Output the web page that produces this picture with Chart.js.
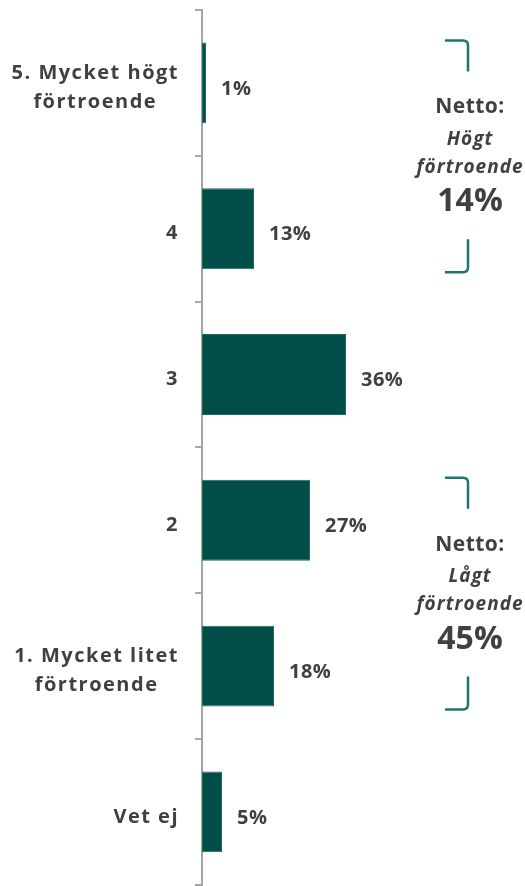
<!DOCTYPE html>
<html>
<head>
<meta charset="utf-8">
<script src="https://cdn.jsdelivr.net/npm/chart.js@4"></script>
<style>
html,body{margin:0;padding:0;background:#fff;}
#wrap{width:525px;height:886px;position:relative;}
</style>
</head>
<body>
<div id="wrap"><canvas id="c"></canvas></div>
<script>
const categories = [["5. Mycket högt","förtroende"], "4", "3", "2", ["1. Mycket litet","förtroende"], "Vet ej"];
const values = [1, 13, 36, 27, 18, 5];
const valueLabels = ["1%", "13%", "36%", "27%", "18%", "5%"];
const nettoTitles = ["Högt", "Lågt"];
const nettoValues = ["14%", "45%"];
const nettoRanges = [[0, 1], [3, 4]];

const FONT = "'Open Sans', Lato, sans-serif";
const TEXT = "#404040";
const BAR = "#024d47";
const BRACKET = "#1a7770";

function setLS(ctx, v) { if ('letterSpacing' in ctx) ctx.letterSpacing = v; }

const labelPlugin = {
  id: 'labels',
  afterDatasetsDraw(chart) {
    const ctx = chart.ctx;
    const meta = chart.getDatasetMeta(0);
    ctx.save();
    ctx.fillStyle = TEXT;
    ctx.textBaseline = 'middle';
    // value labels
    ctx.font = "bold 20px " + FONT;
    setLS(ctx, '0.5px');
    ctx.textAlign = 'left';
    meta.data.forEach((bar, i) => {
      ctx.fillText(valueLabels[i], bar.x + 15, bar.y + 6);
    });
    // category labels: block right-aligned, lines centered within block
    const yScale = chart.scales.y;
    const right = 179;
    ctx.font = "bold 20px " + FONT;
    setLS(ctx, '1.5px');
    categories.forEach((c, i) => {
      const lines = Array.isArray(c) ? c : [c];
      const w = Math.max(...lines.map(l => ctx.measureText(l).width));
      const cx = right - w / 2;
      const y0 = yScale.getPixelForValue(i) + 5;
      const lh = 29;
      ctx.textAlign = 'center';
      lines.forEach((l, k) => {
        ctx.fillText(l, cx, y0 + (k - (lines.length - 1) / 2) * lh);
      });
    });
    // netto annotations
    nettoRanges.forEach((r, gi) => {
      const b0 = meta.data[r[0]], b1 = meta.data[r[1]];
      const top = b0.y - b0.height / 2 - 2;
      const bottom = b1.y + b1.height / 2 + 3;
      const bx = 468;
      ctx.strokeStyle = BRACKET;
      ctx.lineWidth = 2.5;
      ctx.beginPath();
      ctx.moveTo(445, top);
      ctx.lineTo(bx - 5, top);
      ctx.quadraticCurveTo(bx, top, bx, top + 5);
      ctx.lineTo(bx, top + 31);
      ctx.stroke();
      ctx.beginPath();
      ctx.moveTo(bx, bottom - 33);
      ctx.lineTo(bx, bottom - 5);
      ctx.quadraticCurveTo(bx, bottom, bx - 5, bottom);
      ctx.lineTo(445, bottom);
      ctx.stroke();
      const mid = (top + bottom) / 2;
      ctx.fillStyle = TEXT;
      ctx.textAlign = 'center';
      ctx.font = "bold 21px " + FONT;
      setLS(ctx, '0.5px');
      ctx.fillText("Netto:", 470, mid - 49);
      ctx.font = "italic bold 19px " + FONT;
      setLS(ctx, '1px');
      ctx.fillText(nettoTitles[gi], 470, mid - 17);
      ctx.fillText("förtroende", 470, mid + 11);
      ctx.font = "bold 32px " + FONT;
      setLS(ctx, '0px');
      ctx.fillText(nettoValues[gi], 470, mid + 46);
    });
    ctx.restore();
  }
};

new Chart(document.getElementById('c'), {
  type: 'bar',
  data: {
    labels: categories,
    datasets: [{
      data: values,
      backgroundColor: BAR,
      borderColor: '#1f6b63',
      borderWidth: 1,
      borderSkipped: false,
      barPercentage: 0.555,
      categoryPercentage: 1.0
    }]
  },
  options: {
    indexAxis: 'y',
    responsive: true,
    maintainAspectRatio: false,
    animation: false,
    layout: { padding: { top: 10, right: 3, bottom: 0, left: 0 } },
    plugins: { legend: { display: false }, tooltip: { enabled: false } },
    scales: {
      x: { display: false, min: 0, max: 80 },
      y: {
        offset: true,
        grid: { display: true, drawOnChartArea: false, drawTicks: true, tickLength: 7, color: '#a6a6a6', offset: true, lineWidth: 2 },
        border: { display: true, color: '#a6a6a6', width: 2 },
        ticks: { color: 'transparent', padding: 0, font: { size: 1, family: FONT } },
        afterFit(scale) { scale.width = 202; }
      }
    }
  },
  plugins: [labelPlugin]
});
</script>
</body>
</html>
